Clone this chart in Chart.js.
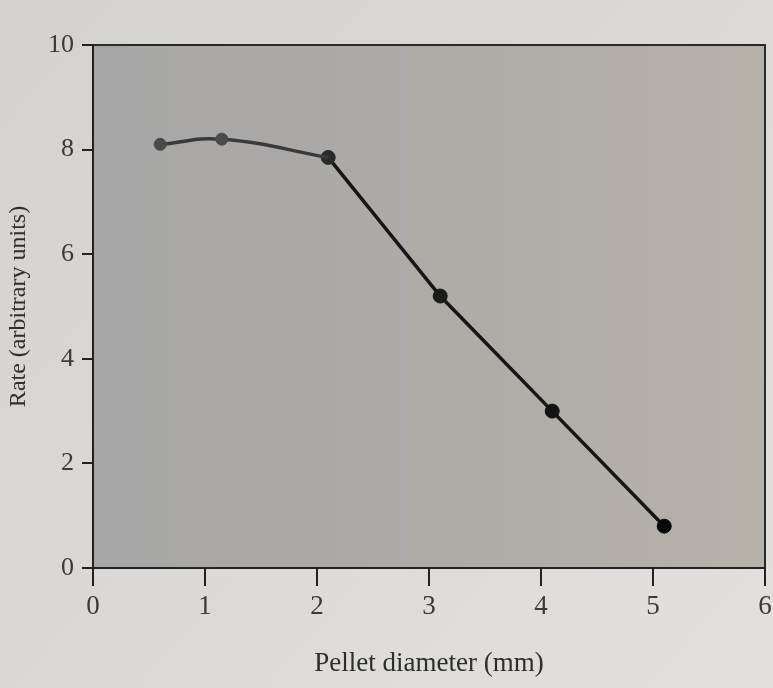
<!DOCTYPE html>
<html>
<head>
<meta charset="utf-8">
<script src="https://cdn.jsdelivr.net/npm/chart.js@4/dist/chart.umd.min.js"></script>
<style>
  html, body { margin: 0; padding: 0; background: #d9d8d4; }
  #wrap { width: 773px; height: 688px; }
</style>
</head>
<body>
<div id="wrap"><canvas id="c" width="773" height="688"></canvas></div>
<script>
// Data
const pelletDiameter = [0.6, 1.15, 2.1, 3.1, 4.1, 5.1];   // mm
const rateValues     = [8.1, 8.2, 7.85, 5.2, 3.0, 0.8];   // arbitrary units
const xTickValues    = [0, 1, 2, 3, 4, 5, 6];
const yTickValues    = [0, 2, 4, 6, 8, 10];
const xTitle = 'Pellet diameter (mm)';
const yTitle = 'Rate (arbitrary units)';

const points = pelletDiameter.map((x, i) => ({ x: x, y: rateValues[i] }));
// smooth curved part (small pellets) and straight part (large pellets)
const curvedPart = points.slice(0, 3);
const straightPart = points.slice(2);

const bgPlugin = {
  id: 'bg',
  beforeDraw(chart) {
    const { ctx, chartArea: a, width, height } = chart;
    ctx.save();
    const pg = ctx.createLinearGradient(0, 0, width, height);
    pg.addColorStop(0, '#d3d2ce');
    pg.addColorStop(1, '#e2e1dd');
    ctx.fillStyle = pg;
    ctx.fillRect(0, 0, width, height);
    const g = ctx.createLinearGradient(a.left, 0, a.right, 0);
    g.addColorStop(0, '#a6a6a6');
    g.addColorStop(1, '#b6b1a9');
    ctx.fillStyle = g;
    ctx.fillRect(a.left, a.top, a.right - a.left, a.bottom - a.top);
    ctx.strokeStyle = '#2a2a2a';
    ctx.lineWidth = 2;
    ctx.beginPath();
    ctx.moveTo(a.left, a.top);
    ctx.lineTo(a.right, a.top);
    ctx.lineTo(a.right, a.bottom);
    ctx.stroke();
    ctx.restore();
  }
};

new Chart(document.getElementById('c'), {
  type: 'scatter',
  data: {
    datasets: [{
      data: curvedPart,
      showLine: true,
      borderColor: '#3a3a3c',
      borderWidth: 3.5,
      tension: 0.45,
      pointRadius: [6, 6, 0],
      pointBackgroundColor: '#4a4a4d',
      pointBorderColor: '#4a4a4d',
      pointBorderWidth: 1
    }, {
      data: straightPart,
      showLine: true,
      borderColor: '#161616',
      borderWidth: 3.5,
      tension: 0,
      pointRadius: 7,
      pointBackgroundColor: ['#2a2a2a', '#1a1a1a', '#121212', '#080808'],
      pointBorderColor: ['#2a2a2a', '#1a1a1a', '#121212', '#080808'],
      pointBorderWidth: 1
    }]
  },
  options: {
    responsive: false,
    animation: false,
    devicePixelRatio: 1,
    layout: { padding: { top: 45, right: 3, left: 0, bottom: 0 } },
    plugins: { legend: { display: false }, tooltip: { enabled: false } },
    scales: {
      x: {
        type: 'linear',
        min: 0, max: 6,
        afterBuildTicks(s) { s.ticks = xTickValues.map(v => ({ value: v })); },
        afterFit(s) { s.height = 120; s.paddingLeft = 0; s.paddingRight = 0; },
        border: { color: '#222', width: 2 },
        grid: { drawOnChartArea: false, drawTicks: true, tickLength: 18, tickColor: '#222', lineWidth: 2 },
        ticks: { color: '#3a3a3a', padding: 5, font: { family: 'Liberation Serif', size: 27 } },
        title: { display: true, text: xTitle, color: '#2e2e2e', padding: { top: 2, bottom: 8 }, font: { family: 'Liberation Serif', size: 27 } }
      },
      y: {
        type: 'linear',
        min: 0, max: 10,
        afterBuildTicks(s) { s.ticks = yTickValues.map(v => ({ value: v })); },
        afterFit(s) { s.width = 93; s.paddingTop = 0; s.paddingBottom = 0; },
        border: { color: '#222', width: 2 },
        grid: { drawOnChartArea: false, drawTicks: true, tickLength: 11, tickColor: '#222', lineWidth: 2 },
        ticks: { color: '#3a3a3a', padding: 8, font: { family: 'Liberation Serif', size: 26 } },
        title: { display: true, text: yTitle, color: '#2e2e2e', padding: { bottom: 2 }, font: { family: 'Liberation Serif', size: 24 } }
      }
    }
  },
  plugins: [bgPlugin]
});
</script>
</body>
</html>
